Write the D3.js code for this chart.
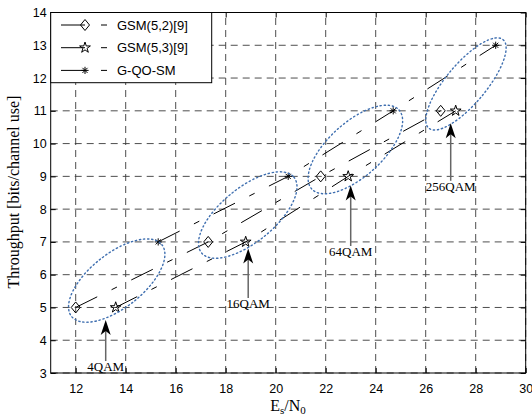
<!DOCTYPE html>
<meta charset="utf-8">
<style>
body { margin: 0; background: #fff; }
.tick text { font-family: "Liberation Sans", Arial, sans-serif; font-size: 12.5px; fill: #000; }
.tick line { stroke: #000; }
.grid line { stroke: #3a3a3a; stroke-width: 0.9; stroke-dasharray: 7,5; }
.series { fill: none; stroke: #000; stroke-width: 1; stroke-dasharray: 24,16,6,16; }
.ring { fill: none; stroke: #3f6fb0; stroke-width: 1.4; stroke-dasharray: 1.3,2.8; stroke-linecap: round; }
.qam { font-family: "Liberation Serif", "Times New Roman", serif; font-size: 13px; }
</style>
<body>
<svg width="532" height="416"></svg>
</body>
<script src="https://d3js.org/d3.v7.min.js"></script>
<script>

// ticks
var xTickVals = [12, 14, 16, 18, 20, 22, 24, 26, 28, 30];
var yTickVals = [3, 4, 5, 6, 7, 8, 9, 10, 11, 12, 13, 14];

// series (Es/N0 , throughput)
var seriesNames = ["GSM(5,2)[9]", "GSM(5,3)[9]", "G-QO-SM"];
var snrGsm52 = [12.0, 17.3, 21.8, 26.6];
var thrGsm52 = [5, 7, 9, 11];
var snrGsm53 = [13.6, 18.8, 22.9, 27.2];
var thrGsm53 = [5, 7, 9, 11];
var snrGqosm = [15.3, 20.5, 24.7, 28.8];
var thrGqosm = [7, 9, 11, 13];

// annotations
var qamLabels = ["4QAM", "16QAM", "64QAM", "256QAM"];
var qamArrowX = [13.2, 18.9, 23.0, 27.0];
var qamArrowTip = [4.62, 6.8, 8.72, 10.62];
var qamLabelY = [3.06, 4.98, 6.57, 8.56];

var svg = d3.select("svg"),
    width = +svg.attr("width"),
    height = +svg.attr("height");

var x = d3.scaleLinear().domain([11, 30]).range([50.7, 525.7]);
var y = d3.scaleLinear().domain([3, 14]).range([373, 12.5]);

//grid
var grid = svg.append("g").attr("class", "grid");
grid.selectAll(".gx").data(xTickVals).enter().append("line")
    .attr("x1", d => x(d)).attr("x2", d => x(d))
    .attr("y1", y(3)).attr("y2", y(14));
grid.selectAll(".gy").data(yTickVals).enter().append("line")
    .attr("x1", x(11)).attr("x2", x(30))
    .attr("y1", d => y(d)).attr("y2", d => y(d));

// axes, ticks inward
function trim(g) { g.select(".domain").remove(); }
svg.append("g").attr("transform", "translate(0," + y(3) + ")")
    .call(d3.axisBottom(x).tickValues(xTickVals).tickSizeInner(-5).tickSizeOuter(0).tickPadding(11.5))
    .call(trim);
svg.append("g").attr("transform", "translate(0," + y(14) + ")")
    .call(d3.axisTop(x).tickValues(xTickVals).tickSizeInner(-5).tickSizeOuter(0).tickFormat(""))
    .call(trim);
svg.append("g").attr("transform", "translate(" + x(11) + ",0)")
    .call(d3.axisLeft(y).tickValues(yTickVals).tickSizeInner(-5).tickSizeOuter(0).tickPadding(4))
    .call(trim);
svg.append("g").attr("transform", "translate(" + x(30) + ",0)")
    .call(d3.axisRight(y).tickValues(yTickVals).tickSizeInner(-5).tickSizeOuter(0).tickFormat(""))
    .call(trim);
svg.selectAll(".tick text").attr("font-family", null).attr("font-size", null);

svg.append("rect")
    .attr("x", x(11)).attr("y", y(14))
    .attr("width", x(30) - x(11)).attr("height", y(3) - y(14))
    .attr("fill", "none").attr("stroke", "#000").attr("stroke-width", 1);

// markers
function diamond(g) {
    g.append("path").attr("d", "M0,-5.5L4.5,0L0,5.5L-4.5,0Z")
        .attr("fill", "none").attr("stroke", "#000").attr("stroke-width", 1);
}
function star(g) {
    g.append("path").attr("d", d3.symbol(d3.symbolStar, 36)())
        .attr("fill", "none").attr("stroke", "#000").attr("stroke-width", 1);
}
function asterisk(g) {
    var r = 3.6, q = r * 0.7071;
    g.append("path").attr("d",
        "M" + (-r) + ",0L" + r + ",0M0," + (-r) + "L0," + r +
        "M" + (-q) + "," + (-q) + "L" + q + "," + q + "M" + (-q) + "," + q + "L" + q + "," + (-q))
        .attr("stroke", "#000").attr("stroke-width", 1);
}

var seriesList = [
    {name: seriesNames[0], xs: snrGsm52, ys: thrGsm52, mark: diamond},
    {name: seriesNames[1], xs: snrGsm53, ys: thrGsm53, mark: star},
    {name: seriesNames[2], xs: snrGqosm, ys: thrGqosm, mark: asterisk}
];

var line = d3.line().x(d => x(d[0])).y(d => y(d[1]));

seriesList.forEach(function(s) {
    var pts = s.xs.map((v, i) => [v, s.ys[i]]);
    svg.append("path").attr("class", "series").attr("d", line(pts));
    pts.forEach(function(p) {
        var g = svg.append("g").attr("transform", "translate(" + x(p[0]) + "," + y(p[1]) + ")");
        s.mark(g);
    });
});

// dotted rings round each modulation group
var ringRy = [27, 27, 27, 20];
var ringPad = [5, 8, 10, 15];
for (var i = 0; i < 4; i++) {
    var a = [x(snrGsm52[i]), y(thrGsm52[i])],
        b = [x(snrGqosm[i]), y(thrGqosm[i])],
        s = [x(snrGsm53[i]), y(thrGsm53[i])];
    var mx = (a[0] + b[0]) / 2, my = (a[1] + b[1]) / 2;
    var cx = 0.82 * mx + 0.18 * s[0], cy = 0.82 * my + 0.18 * s[1];
    var ang = Math.atan2(b[1] - a[1], b[0] - a[0]) * 180 / Math.PI;
    var half = Math.hypot(b[0] - a[0], b[1] - a[1]) / 2;
    svg.append("ellipse").attr("class", "ring")
        .attr("cx", 0).attr("cy", 0)
        .attr("rx", half + ringPad[i]).attr("ry", ringRy[i])
        .attr("transform", "translate(" + cx + "," + cy + ") rotate(" + ang + ")");
}

// arrows + QAM labels
qamLabels.forEach(function(lab, i) {
    var base = y(qamLabelY[i]);
    svg.append("line")
        .attr("x1", x(qamArrowX[i])).attr("x2", x(qamArrowX[i]))
        .attr("y1", base - 10).attr("y2", y(qamArrowTip[i]) + 8)
        .attr("stroke", "#666").attr("stroke-width", 1.5);
    svg.append("path")
        .attr("d", "M0,0L5,15L0,11L-5,15Z")
        .attr("transform", "translate(" + x(qamArrowX[i]) + "," + y(qamArrowTip[i]) + ")")
        .attr("fill", "#000");
    svg.append("text").attr("class", "qam")
        .attr("x", x(qamArrowX[i])).attr("y", base)
        .attr("text-anchor", "middle").text(lab);
});

// legend
var lg = svg.append("g");
lg.append("rect")
    .attr("x", x(11)).attr("y", y(14))
    .attr("width", 161).attr("height", 70.2)
    .attr("fill", "#fff").attr("stroke", "#000").attr("stroke-width", 1);
seriesList.forEach(function(s, i) {
    var ry = y(14) + 12.5 + i * 22.7;
    lg.append("path").attr("class", "series")
        .attr("d", "M61," + ry + "L108," + ry);
    var g = lg.append("g").attr("transform", "translate(85," + ry + ")");
    s.mark(g);
    lg.append("text").attr("x", 117).attr("y", ry + 4.5)
        .attr("font-family", "'Liberation Sans', Arial, sans-serif")
        .attr("font-size", 13).text(s.name);
});

// axis titles
var xt = svg.append("text").attr("x", 288).attr("y", 411)
    .attr("text-anchor", "middle")
    .attr("font-family", "'Liberation Serif', 'Times New Roman', serif")
    .attr("font-size", 16);
xt.append("tspan").text("E");
xt.append("tspan").attr("font-size", 11).attr("dy", 3).text("s");
xt.append("tspan").attr("dy", -3).text("/N");
xt.append("tspan").attr("font-size", 11).attr("dy", 3).text("0");

svg.append("text")
    .attr("transform", "translate(19,192) rotate(-90)")
    .attr("text-anchor", "middle")
    .attr("font-family", "'Liberation Serif', 'Times New Roman', serif")
    .attr("font-size", 16)
    .text("Throughput [bits/channel use]");

</script>
